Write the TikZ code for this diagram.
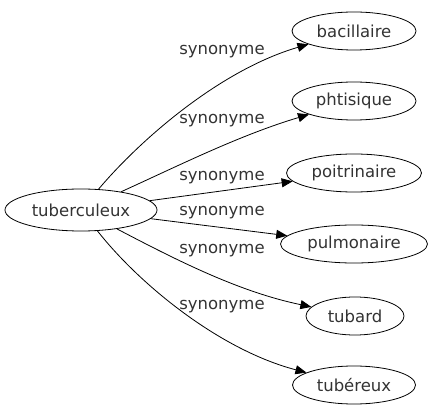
\documentclass[tikz,border=0pt]{standalone}
\usepackage{fontspec}
\setmainfont{DejaVu Sans}
\usetikzlibrary{shapes.geometric,arrows.meta}
\begin{document}
\begin{tikzpicture}[x=1pt,y=-1pt,
  word/.style={ellipse,draw,line width=0.8pt,inner sep=0pt,text=black!80,font=\fontsize{16.5}{19}\selectfont},
  lbl/.style={text=black!80,font=\fontsize{16.5}{19}\selectfont,inner sep=0pt},
  link/.style={line width=0.8pt,-{Triangle[length=11pt,width=9pt]}}]
\useasboundingbox (0,0) rectangle (433,419);
\node[word,minimum width=152pt,minimum height=42pt] (t) at (81,210) {tuberculeux};
\node[word,minimum width=124pt,minimum height=38pt] (n1) at (354,31) {bacillaire};
\node[word,minimum width=124pt,minimum height=38pt] (n2) at (354,101) {phtisique};
\node[word,minimum width=135pt,minimum height=38pt] (n3) at (354,173) {poitrinaire};
\node[word,minimum width=147pt,minimum height=38pt] (n4) at (354,244) {pulmonaire};
\node[word,minimum width=98pt,minimum height=38pt] (n5) at (355,316) {tubard};
\node[word,minimum width=123pt,minimum height=38pt] (n6) at (354,385) {tubéreux};
\draw[link] (t) .. controls (140,140) and (220,70) .. (n1);
\draw[link] (t) .. controls (180,165) and (240,135) .. (n2);
\draw[link] (t) -- (n3);
\draw[link] (t) -- (n4);
\draw[link] (t) .. controls (180,262) and (240,292) .. (n5);
\draw[link] (t) .. controls (140,285) and (220,350) .. (n6);
\node[lbl] (l1) at (222,52) {synonyme};
\node[lbl] (l2) at (222,121) {synonyme};
\node[lbl] (l3) at (222,178) {synonyme};
\node[lbl] (l4) at (222,213) {synonyme};
\node[lbl] (l5) at (222,251) {synonyme};
\node[lbl] (l6) at (222,307) {synonyme};
\end{tikzpicture}
\end{document}
